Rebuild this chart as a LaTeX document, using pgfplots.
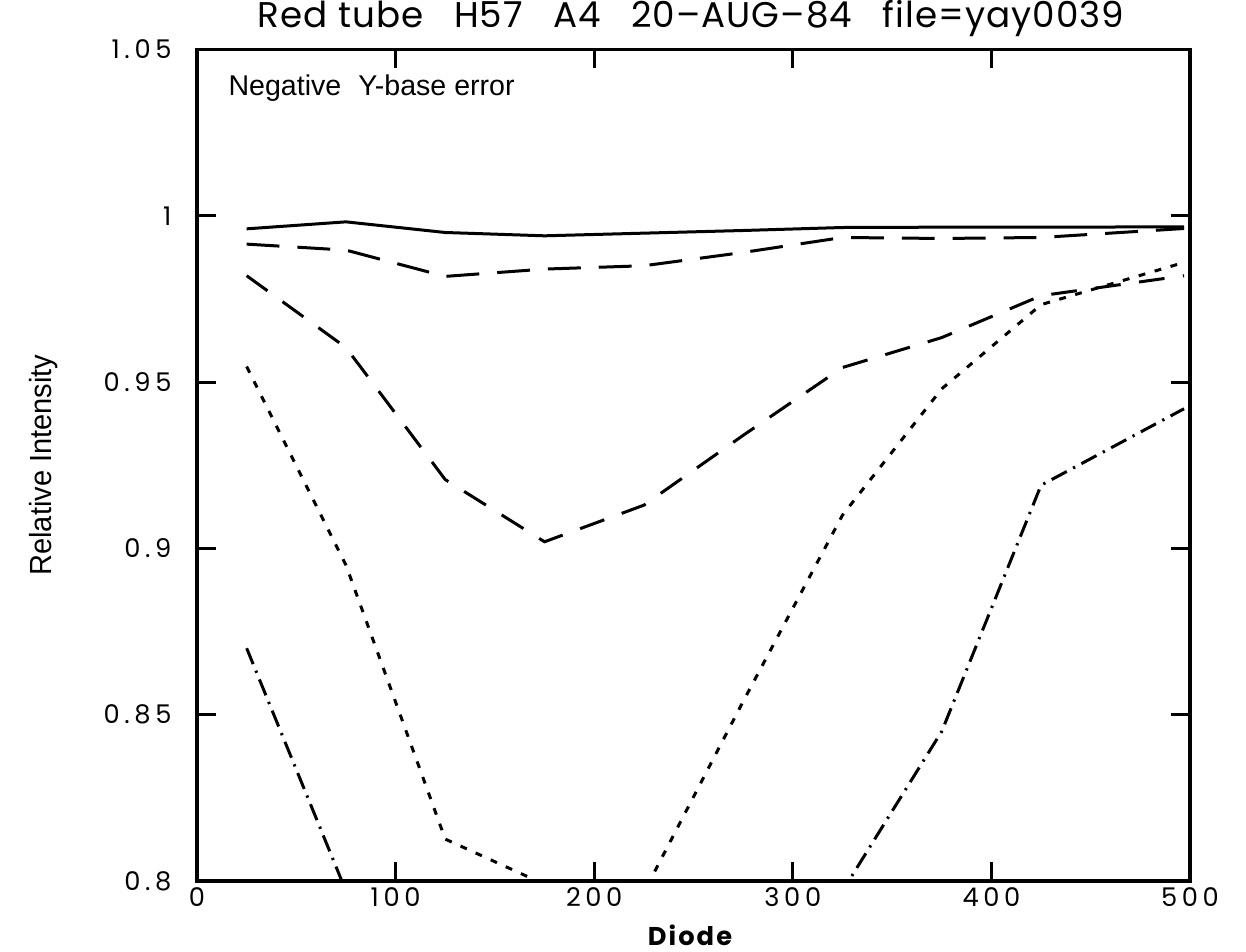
\documentclass[border=0pt]{standalone}
\usepackage{fontspec}
\usepackage{graphicx}
\usepackage{pgfplots}
\pgfplotsset{compat=1.18}
\setmainfont{Poppins}
\newfontfamily\tickfont{Poppins}[LetterSpace=18]
\newfontfamily\titlefont{Poppins}[LetterSpace=3]
\newfontfamily\labfont{Liberation Sans}
\newfontfamily\boldlab{Poppins}[LetterSpace=8]

\begin{document}
\begin{tikzpicture}
\begin{axis}[
  at={(0,0)}, anchor=south west,
  scale only axis,
  width=347.55pt, height=291.0pt,
  xmin=0, xmax=500, ymin=0.8, ymax=1.05,
  xtick={0,100,200,300,400,500},
  xticklabels={0,100,200,300,400,500},
  ytick={0.8,0.85,0.9,0.95,1,1.05},
  yticklabels={0.8,0.85,0.9,0.95,1,1.05},
  /pgf/number format/assume math mode=true,
  tick align=inside,
  major tick length=6.5pt,
  tick style={line width=1pt, black},
  axis line style={line width=1.3pt},
  ticklabel style={font=\tickfont\fontsize{9}{9}\selectfont, inner sep=0pt},
  xticklabel style={anchor=base, yshift=-8.75pt},
  yticklabel style={anchor=east, xshift=-8.75pt},
  clip=true,
  every axis plot/.append style={line width=1.05pt, black},
]
% solid
\addplot[solid] coordinates {
 (25,0.9961) (75,0.9982) (125,0.9950) (175,0.9940) (225,0.9948)
 (275,0.9956) (325,0.9965) (375,0.9966) (425,0.9966) (497,0.9967)};
% long dashes
\addplot[dash pattern=on 11.5pt off 6.3pt] coordinates {
 (25,0.9915) (75,0.9897) (125,0.9818) (175,0.9840) (225,0.9850)
 (275,0.9890) (325,0.9935) (375,0.9932) (425,0.9935) (497,0.9962)};
% medium dashes
\addplot[dash pattern=on 9pt off 6.5pt] coordinates {
 (25,0.982) (75,0.9604) (125,0.9207) (175,0.902) (225,0.913)
 (275,0.934) (325,0.9544) (375,0.9634) (425,0.976) (497,0.982)};
% dotted
\addplot[dash pattern=on 2.4pt off 3.4pt] coordinates {
 (25,0.9547) (75,0.895) (125,0.8126) (175,0.799) (225,0.7966)
 (275,0.854) (325,0.910) (375,0.948) (425,0.9733) (497,0.986)};
% dash-dot
\addplot[dash pattern=on 6pt off 2.5pt on 0.8pt off 2.5pt] coordinates {
 (25,0.870) (75,0.797) (125,0.76) (175,0.74) (225,0.74)
 (275,0.76) (325,0.797) (375,0.845) (425,0.919) (497,0.942)};
\end{axis}
% title
\node[anchor=base, font=\titlefont\fontsize{12.5}{12.5}\selectfont, inner sep=0pt] at (172.9pt, 298.9pt)
  {Red tube\hspace{0.85em}H57\hspace{0.85em}A4\hspace{0.85em}20\textendash AUG\textendash 84\hspace{0.85em}file=yay0039};
% inner text
\node[anchor=base west, font=\labfont\fontsize{10}{10}\selectfont, inner sep=0pt] at (10.85pt, 275.1pt)
  {Negative\hspace{0.6em}Y-base error};
% x label
\node[anchor=base, font=\boldlab\bfseries\fontsize{9}{9}\selectfont, inner sep=0pt] at (172.55pt, -22.4pt) {Diode};
% y label
\node[anchor=base, rotate=90, font=\labfont\fontsize{10.7}{10.7}\selectfont, inner sep=0pt] at (-50.75pt, 145.6pt)
  {\scalebox{0.95}[1]{Relative Intensity}};
\pgfresetboundingbox
\useasboundingbox (-68.95pt,-24.5pt) rectangle (367.15pt,308.35pt);
\end{tikzpicture}
\end{document}
